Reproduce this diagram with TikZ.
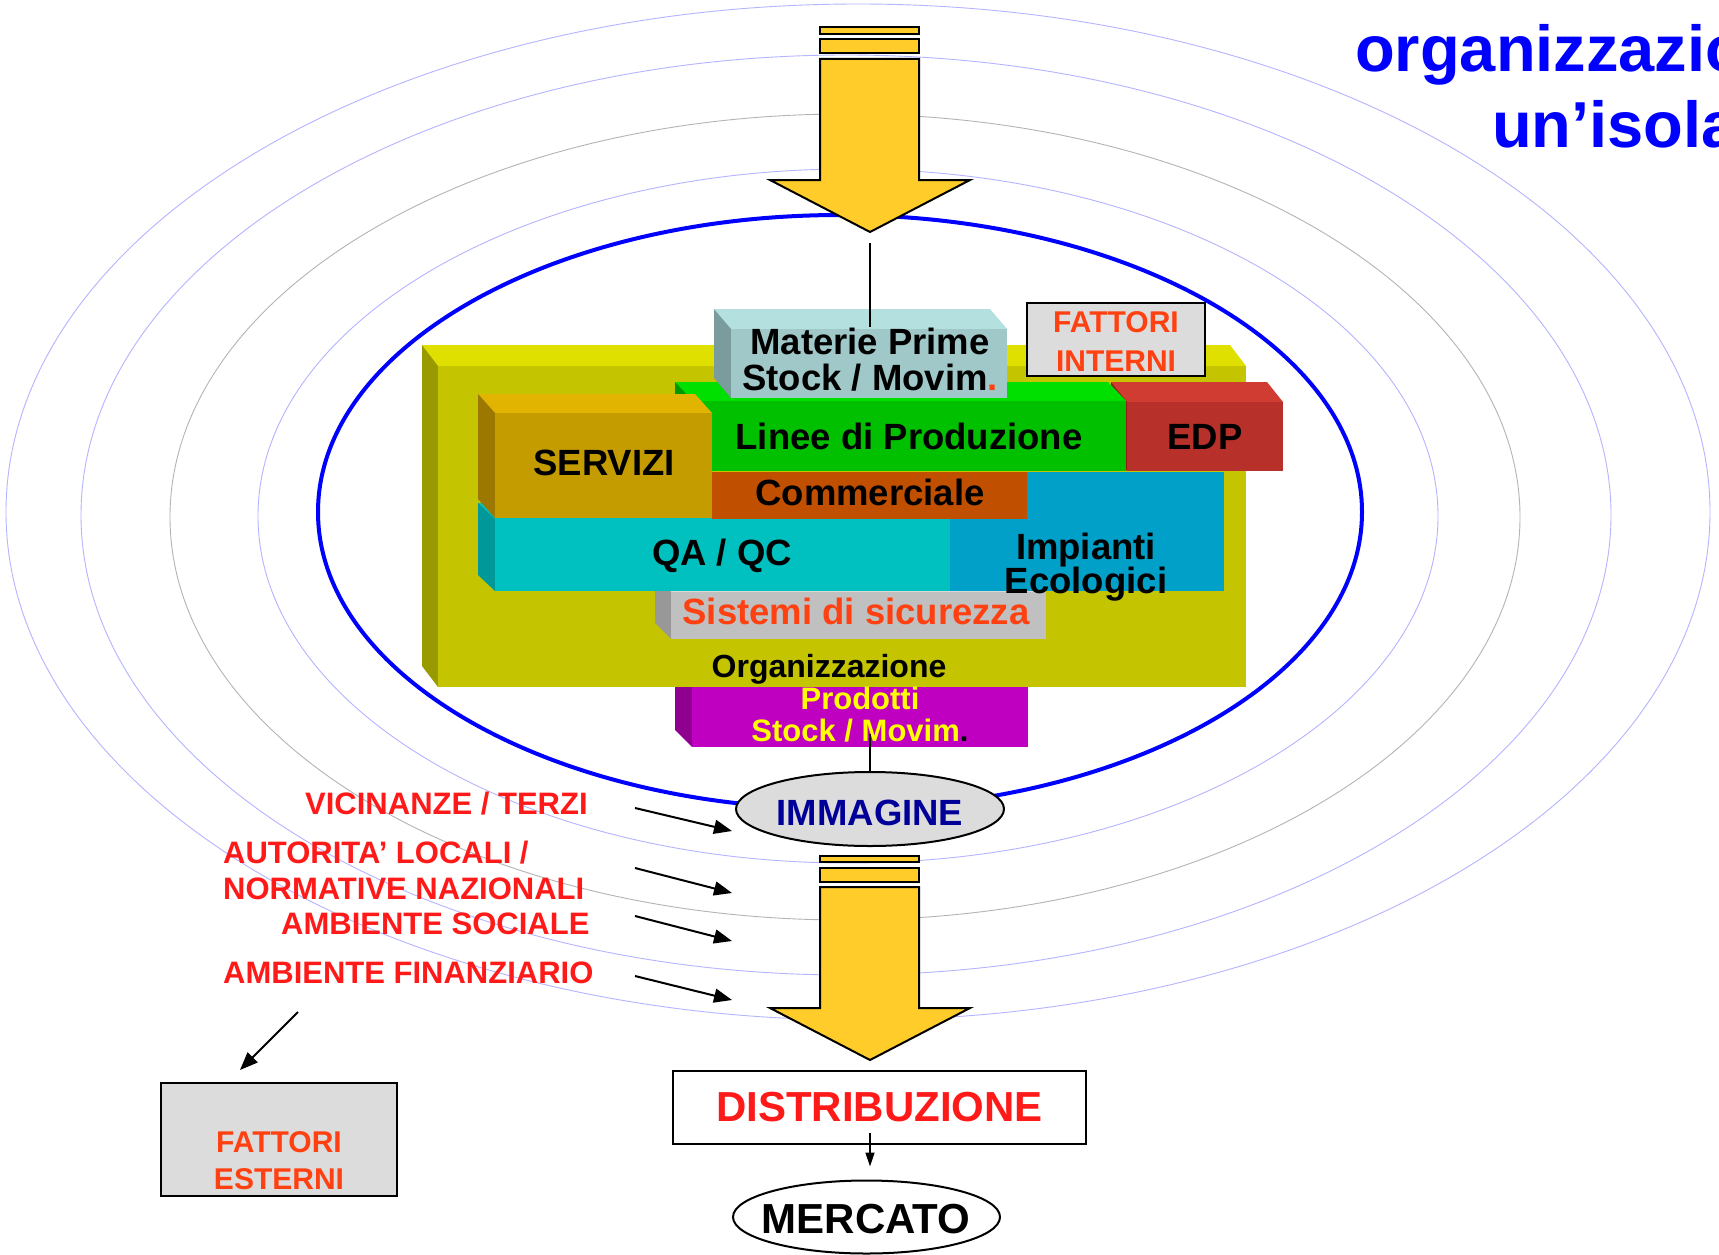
\documentclass[tikz,border=0pt]{standalone}
\usepackage{fontspec}
\setmainfont{Liberation Sans}
\usetikzlibrary{arrows.meta,calc,shapes.geometric}
\definecolor{ringlav}{HTML}{B4B4FF}
\definecolor{ringgray}{HTML}{B4B4B4}
\definecolor{isleblue}{HTML}{0000FF}
\definecolor{arrowyel}{HTML}{FFCC29}
\definecolor{olivefront}{HTML}{C4C400}
\definecolor{olivetop}{HTML}{E0E000}
\definecolor{oliveside}{HTML}{999900}
\definecolor{grnfront}{HTML}{00C000}
\definecolor{grntop}{HTML}{00E000}
\definecolor{grnside}{HTML}{009A00}
\definecolor{edpfront}{HTML}{B8302A}
\definecolor{edptop}{HTML}{D03C32}
\definecolor{edpside}{HTML}{8C2018}
\definecolor{matfront}{HTML}{A0C8C8}
\definecolor{mattop}{HTML}{B4E0E0}
\definecolor{matside}{HTML}{7A9C9C}
\definecolor{srvfront}{HTML}{C49C00}
\definecolor{srvtop}{HTML}{E0B400}
\definecolor{srvside}{HTML}{9C7800}
\definecolor{qafront}{HTML}{00C0C0}
\definecolor{qaside}{HTML}{009898}
\definecolor{impblue}{HTML}{00A0C8}
\definecolor{comorange}{HTML}{C05000}
\definecolor{sisfront}{HTML}{C0C0C0}
\definecolor{sistop}{HTML}{D8D8D8}
\definecolor{sisside}{HTML}{989898}
\definecolor{prodfront}{HTML}{C000C0}
\definecolor{prodside}{HTML}{900090}
\definecolor{boxgray}{HTML}{DCDCDC}
\definecolor{lblred}{HTML}{FF1A1A}
\definecolor{orred}{HTML}{FF4010}
\definecolor{immnavy}{HTML}{000099}
\definecolor{prodyellow}{HTML}{FFFF00}
\newcommand\fsz[1]{\fontsize{#1}{#1}\selectfont\bfseries}
% x1 y1 x2 y2 dx dy front top side
\newcommand\tdblock[9]{%
  \fill[#8] (#1,#2) -- ({#1-#5},{#2-#6}) -- ({#3-#5},{#2-#6}) -- (#3,#2) -- cycle;
  \fill[#9] (#1,#2) -- ({#1-#5},{#2-#6}) -- ({#1-#5},{#4-#6}) -- (#1,#4) -- cycle;
  \fill[#7] (#1,#2) rectangle (#3,#4);}
\tikzset{
  ringl/.style={draw=ringlav, line width=0.9pt},
  ringg/.style={draw=ringgray, line width=0.9pt},
  bigarrow/.style={fill=arrowyel, draw=black, line width=2pt, line join=miter},
  btxt/.style={inner sep=0pt, anchor=base, font=\fsz{36.5}},
  lbl/.style={inner sep=0pt, anchor=base west, text=lblred, font=\fsz{31}},
  conn/.style={draw=black, line width=2pt},
  arr/.style={conn, -{Triangle[length=18pt,width=14pt]}},
  smallarr/.style={draw=black, line width=1.5pt, -{Triangle[length=14pt,width=9pt]}},
  oval/.style={ellipse, draw=black, line width=2pt, inner sep=0pt}
}
\begin{document}
\begin{tikzpicture}[x=1pt,y=-1pt]
\useasboundingbox (0,0) rectangle (1719,1255);
\fill[white] (0,0) rectangle (1719,1255);
% rings
\draw[ringl] (858,512) ellipse [x radius=852pt, y radius=508pt];
\draw[ringl] (846,515) ellipse [x radius=765pt, y radius=460pt];
\draw[ringg] (845,517) ellipse [x radius=675pt, y radius=403pt];
\draw[ringl] (848,516) ellipse [x radius=590pt, y radius=347pt];
% island
\draw[isleblue, line width=4pt] (840,512) ellipse [x radius=522pt, y radius=297pt];
% big arrows
\coordinate (toptip) at (870,232);
\draw[bigarrow] (820,27) rectangle (919,34);
\draw[bigarrow] (820,39) rectangle (919,53);
\draw[bigarrow] (820,59) -- (919,59) -- (919,180) -- (970,180) -- (toptip) -- (770,180) -- (820,180) -- cycle;
\coordinate (bottip) at (870,1060);
\draw[bigarrow] (820,856) rectangle (919,862);
\draw[bigarrow] (820,868) rectangle (919,882);
\draw[bigarrow] (820,887) -- (919,887) -- (919,1008) -- (970,1008) -- (bottip) -- (770,1008) -- (820,1008) -- cycle;
% blocks
\tdblock{692}{687}{1028}{747}{17}{17}{prodfront}{prodfront}{prodside}
\tdblock{438}{366}{1246}{687}{16}{21}{olivefront}{olivetop}{oliveside}
\node[draw=black, line width=2pt, fill=boxgray, minimum width=178pt, minimum height=73pt, inner sep=0pt] (fibox) at (1116,339.5) {};
\tdblock{1127}{402}{1283}{471}{16}{20}{edpfront}{edptop}{edpside}
\tdblock{693}{401}{1126}{471}{18}{19}{grnfront}{grntop}{grnside}
\tdblock{731}{329}{1007}{398}{17}{20}{matfront}{mattop}{matside}
\tdblock{671}{592}{1046}{639}{16}{16}{sisfront}{sistop}{sisside}
\tdblock{495}{519}{950}{591}{17}{16}{qafront}{qafront}{qaside}
\fill[impblue] (950,472) rectangle (1224,591);
\tdblock{495}{413}{712}{518}{17}{19}{srvfront}{srvtop}{srvside}
\fill[comorange] (712,472) rectangle (1027,519);
% block texts
\node[btxt] (mat1) at (870,354) {Materie Prime};
\node[btxt] (mat2) at (870,390) {Stock / Movim\textcolor{orred}{.}};
\node[btxt] (lin) at (909,449) {Linee di Produzione};
\node[btxt] (edp) at (1205,449) {EDP};
\node[btxt] (srv) at (604,475) {SERVIZI};
\node[btxt] (com) at (870,505) {Commerciale};
\node[btxt] (qa) at (722,565) {QA / QC};
\node[btxt] (imp1) at (1086,559) {Impianti};
\node[btxt] (imp2) at (1086,593) {Ecologici};
\node[btxt, text=orred] (sis) at (856,624) {Sistemi di sicurezza};
\node[btxt, font=\fsz{32}] (org) at (829,677) {Organizzazione};
\node[btxt, font=\fsz{31}, text=prodyellow] (prod1) at (860,709) {Prodotti};
\node[btxt, font=\fsz{31}, text=prodyellow] (prod2) at (860,741) {Stock / Movim\textcolor{black}{.}};
\node[btxt, font=\fsz{30}, text=orred] (fi1) at (1116,332) {FATTORI};
\node[btxt, font=\fsz{30}, text=orred] (fi2) at (1116,371) {INTERNI};
% image, distribution, market
\node[oval, fill=boxgray, minimum width=268pt, minimum height=74pt] (imm) at (870,809) {};
\node[btxt, text=immnavy] (immt) at (870,825) {IMMAGINE};
\node[draw=black, line width=2pt, fill=white, minimum width=413pt, minimum height=73pt, inner sep=0pt, text=lblred, font=\fsz{42}] (dist) at (879.5,1107.5) {DISTRIBUZIONE};
\node[oval, fill=white, minimum width=267pt, minimum height=73pt] (merc) at (866.5,1217) {};
\node[btxt, font=\fsz{42}] (merct) at (866,1233) {MERCATO};
% connectors
\draw[conn] ($(toptip)+(0,11)$) -- (mat1.north);
\draw[conn] ($(prod2.base -| imm.north)+(0,-7)$) -- (imm.north);
\draw[smallarr] ($(dist.south -| imm.south)+(0,-12)$) -- ($(merc.north -| imm.south)+(0,-13)$);
% external factors
\node[draw=black, line width=2pt, fill=boxgray, minimum width=236pt, minimum height=113pt, inner sep=0pt] (fe) at (279,1139.5) {};
\node[btxt, font=\fsz{30}, text=orred] (fe1) at (279,1152) {FATTORI};
\node[btxt, font=\fsz{30}, text=orred] (fe2) at (279,1189) {ESTERNI};
\node[lbl] (l1) at (305,814) {VICINANZE / TERZI};
\node[lbl] (l2) at (223,863) {AUTORITA’ LOCALI /};
\node[lbl] (l3) at (223,899) {NORMATIVE NAZIONALI};
\node[lbl] (l4) at (281,934) {AMBIENTE SOCIALE};
\node[lbl] (l5) at (223,983) {AMBIENTE FINANZIARIO};
\coordinate (a1s) at (635,808); \coordinate (a1e) at (732,831);
\coordinate (a2s) at (635,868); \coordinate (a2e) at (732,893);
\coordinate (a3s) at (635,916); \coordinate (a3e) at (732,941);
\coordinate (a4s) at (635,976); \coordinate (a4e) at (732,1000);
\draw[arr] (a1s) -- (a1e);
\draw[arr] (a2s) -- (a2e);
\draw[arr] (a3s) -- (a3e);
\draw[arr] (a4s) -- (a4e);
\coordinate (fes) at (298,1012);
\draw[arr] (fes) -- ($(fe.north west)+(80,-12)$);
% title (cut by the right edge, as in the reference)
\node[inner sep=0pt, anchor=base west, text=isleblue, font=\fsz{65}] (t1) at (1355,72) {organizzazio};
\node[inner sep=0pt, anchor=base west, text=isleblue, font=\fsz{65}] (t2) at (1492,147) {un’isola};
\end{tikzpicture}
\end{document}
